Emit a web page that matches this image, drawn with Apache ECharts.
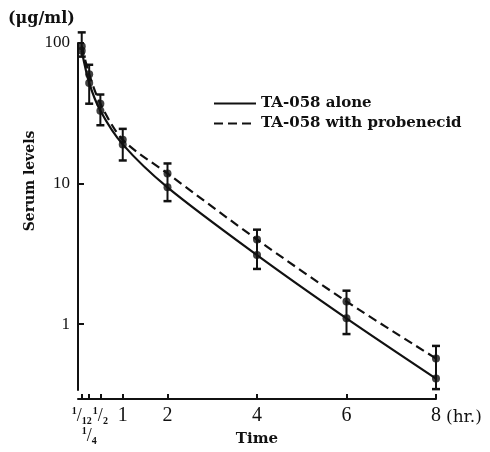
<!DOCTYPE html>
<html>
<head>
<meta charset="utf-8">
<script src="https://cdn.jsdelivr.net/npm/echarts@6/dist/echarts.min.js"></script>
<style>html,body{margin:0;padding:0;background:#fff;}#c{width:490px;height:452px;}</style>
</head>
<body>
<div id="c"></div>
<script>
var times = [1/12, 1/4, 1/2, 1, 2, 4, 6, 8];
var alone = [88, 52, 33, 19, 9.4, 3.1, 1.1, 0.41];
var probenecid = [95, 60, 37, 20.5, 11.8, 4.0, 1.45, 0.57];
var errLow = [80, 37, 26, 14.6, 7.5, 2.47, 0.85, 0.345];
var errHigh = [119, 70, 43, 24.5, 13.9, 4.7, 1.73, 0.70];
var xTickValues = [1/12, 1/4, 1/2, 1, 2, 4, 6, 8];
var xLabelRow1 = [1/12, 1/2, 1, 2, 4, 6, 8];
var xLabelRow2 = [1/4];
var yTickValues = [1, 10, 100];
var seriesNames = ['TA-058 alone', 'TA-058 with probenecid'];

var FONT = '"Liberation Serif", "DejaVu Serif", serif';
var WFONT = '"DejaVu Serif", "Liberation Serif", serif';

function pairs(ys) { return times.map(function (t, i) { return [t, ys[i]]; }); }

function xLabel(v) {
  if (v < 0.15) return '{up|1}{sl|/}{dn|12}';
  if (v < 0.35) return '{up|1}{sl|/}{dn|4}';
  if (v < 0.75) return '{up|1}{sl|/}{dn|2}';
  return '{n|' + Math.round(v) + '}';
}

var richX = {
  n: { fontFamily: FONT, fontSize: 20, color: '#111', lineHeight: 20 },
  up: { fontFamily: FONT, fontSize: 10, fontWeight: 'bold', color: '#111', verticalAlign: 'top', lineHeight: 20 },
  sl: { fontFamily: FONT, fontSize: 18, color: '#111', lineHeight: 20 },
  dn: { fontFamily: FONT, fontSize: 10, fontWeight: 'bold', color: '#111', verticalAlign: 'bottom', lineHeight: 20 }
};

var chart = echarts.init(document.getElementById('c'));
chart.setOption({
  animation: false,
  backgroundColor: '#fff',
  grid: { left: 78, right: 54, top: 43, bottom: 58 },
  legend: {
    data: seriesNames,
    orient: 'vertical',
    left: 208,
    top: 90,
    itemWidth: 42,
    itemHeight: 14,
    itemGap: 3,
    itemStyle: { opacity: 0 },
    textStyle: { fontFamily: WFONT, fontSize: 15, fontWeight: 'bold', color: '#111', lineHeight: 17 }
  },
  xAxis: [{
    type: 'value',
    min: 0,
    max: 8,
    offset: 9,
    name: 'Time',
    nameLocation: 'middle',
    nameGap: 33,
    nameTextStyle: { fontFamily: WFONT, fontSize: 15, fontWeight: 'bold', color: '#111' },
    axisLine: { lineStyle: { color: '#111', width: 2 } },
    axisTick: { inside: true, length: 5, lineStyle: { color: '#111', width: 2 }, customValues: xTickValues },
    splitLine: { show: false },
    axisLabel: {
      customValues: xLabelRow1,
      interval: 0,
      hideOverlap: false,
      margin: 7,
      color: '#111',
      formatter: xLabel,
      rich: richX
    }
  }, {
    type: 'value',
    min: 0,
    max: 8,
    offset: 9,
    position: 'bottom',
    axisLine: { show: false },
    axisTick: { show: false },
    splitLine: { show: false },
    axisLabel: {
      customValues: xLabelRow2,
      interval: 0,
      hideOverlap: false,
      margin: 27,
      color: '#111',
      formatter: xLabel,
      rich: richX
    }
  }],
  yAxis: {
    type: 'log',
    logBase: 10,
    min: 0.34,
    max: 100,
    offset: 4,
    axisLine: { show: true, lineStyle: { color: '#111', width: 2 } },
    axisTick: { show: true, inside: true, length: 6, lineStyle: { color: '#111', width: 2 }, customValues: yTickValues },
    splitLine: { show: false },
    minorTick: { show: false },
    axisLabel: {
      customValues: yTickValues,
      margin: 4,
      fontFamily: FONT,
      fontSize: 17,
      color: '#111',
      formatter: function (v) { return String(Math.round(v)); }
    }
  },
  graphic: [
    { type: 'text', left: 8, top: 11, style: { text: '(μg/ml)', fontFamily: WFONT, fontSize: 16, fontWeight: 'bold', fill: '#111' } },
    { type: 'text', x: 30, y: 181, rotation: Math.PI / 2, style: { text: 'Serum levels', fontFamily: WFONT, fontSize: 14, fontWeight: 'bold', fill: '#111', align: 'center', verticalAlign: 'middle' } },
    { type: 'text', left: 446, top: 409, style: { text: '(hr.)', fontFamily: WFONT, fontSize: 17, fill: '#111' } }
  ],
  series: [
    {
      name: seriesNames[0],
      type: 'line',
      data: pairs(alone),
      smooth: 0.3,
      symbol: 'none',
      lineStyle: { color: '#111', width: 2.2 },
      itemStyle: { color: '#111' },
      z: 3
    },
    {
      name: seriesNames[1],
      type: 'line',
      data: pairs(probenecid),
      smooth: 0.3,
      symbol: 'none',
      lineStyle: { color: '#111', width: 2.2, type: [9, 5] },
      itemStyle: { color: '#111' },
      z: 3
    },
    {
      name: 'errors',
      type: 'custom',
      clip: false,
      data: times.map(function (t, i) { return [t, errLow[i], errHigh[i]]; }),
      renderItem: function (params, api) {
        var lo = api.coord([api.value(0), api.value(1)]);
        var hi = api.coord([api.value(0), api.value(2)]);
        var w = 4;
        var st = { stroke: '#111', lineWidth: 2 };
        return {
          type: 'group',
          children: [
            { type: 'line', shape: { x1: lo[0], y1: lo[1], x2: hi[0], y2: hi[1] }, style: st },
            { type: 'line', shape: { x1: lo[0] - w, y1: lo[1], x2: lo[0] + w, y2: lo[1] }, style: { stroke: '#111', lineWidth: 2.5 } },
            { type: 'line', shape: { x1: hi[0] - w, y1: hi[1], x2: hi[0] + w, y2: hi[1] }, style: { stroke: '#111', lineWidth: 2.5 } }
          ]
        };
      },
      z: 4
    },
    {
      name: 'alone points',
      type: 'scatter',
      data: pairs(alone),
      symbol: 'circle',
      symbolSize: 8,
      itemStyle: { color: '#111' },
      clip: false,
      z: 5
    },
    {
      name: 'probenecid points',
      type: 'scatter',
      data: pairs(probenecid),
      symbol: 'circle',
      symbolSize: 8,
      itemStyle: { color: '#111' },
      clip: false,
      z: 5
    }
  ]
});
</script>
</body>
</html>
